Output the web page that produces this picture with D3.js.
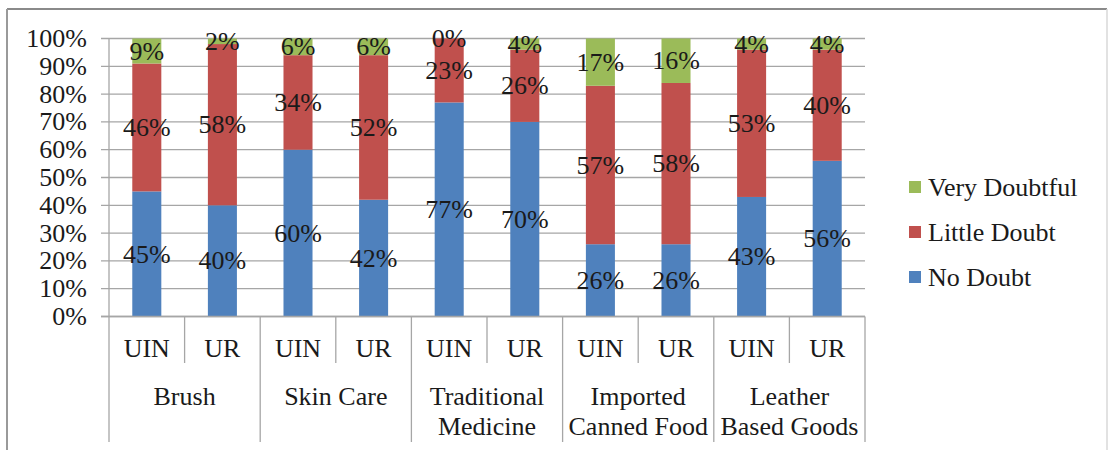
<!DOCTYPE html>
<html>
<head>
<meta charset="utf-8">
<script src="https://cdn.jsdelivr.net/npm/d3@7/dist/d3.min.js"></script>
<style>
  html, body { margin: 0; padding: 0; background: #fff; }
  svg { display: block; }
</style>
</head>
<body>
<svg id="chart" width="1110" height="450"></svg>
<script>
// ---- data ----
const groups = ["Brush", "Skin Care", "Traditional Medicine", "Imported Canned Food", "Leather Based Goods"];
const groupLines = [["Brush"], ["Skin Care"], ["Traditional", "Medicine"], ["Imported", "Canned Food"], ["Leather", "Based Goods"]];
const subgroups = ["UIN", "UR"];
const noDoubt     = [45, 40, 60, 42, 77, 70, 26, 26, 43, 56];
const littleDoubt = [46, 58, 34, 52, 23, 26, 57, 58, 53, 40];
const veryDoubtful = [9, 2, 6, 6, 0, 4, 17, 16, 4, 4];
const seriesNames = ["No Doubt", "Little Doubt", "Very Doubtful"];
const yTicks = [0, 10, 20, 30, 40, 50, 60, 70, 80, 90, 100];

const colors = { "No Doubt": "#4F81BD", "Little Doubt": "#C0504D", "Very Doubtful": "#9BBB59" };

(function () {
const svg = d3.select("#chart");
const pLeft = 109, pRight = 865, pTop = 38.5, pBottom = 316.5;
const fontSize = 26;
const FAM = '"Liberation Serif"';
const ink = "#1a1a1a";
const styleText = sel => sel.style("font-family", FAM).attr("font-size", fontSize).attr("fill", ink);

// outer frame
svg.append("line").attr("x1", 7).attr("x2", 1107).attr("y1", 9).attr("y2", 9).attr("stroke", "#8a8a8a").attr("stroke-width", 2);
svg.append("line").attr("x1", 7).attr("x2", 7).attr("y1", 9).attr("y2", 450).attr("stroke", "#9a9a9a").attr("stroke-width", 2);
svg.append("line").attr("x1", 1107).attr("x2", 1107).attr("y1", 9).attr("y2", 450).attr("stroke", "#d8d8d8").attr("stroke-width", 1.5);

// rows
const rows = [];
groups.forEach((g, gi) => subgroups.forEach((s, si) => {
  const i = gi * 2 + si;
  rows.push({ key: g + "|" + s, group: g, sub: s,
    "No Doubt": noDoubt[i], "Little Doubt": littleDoubt[i], "Very Doubtful": veryDoubtful[i] });
}));

const x = d3.scaleBand().domain(rows.map(r => r.key)).range([pLeft, pRight]).paddingInner(0.616).paddingOuter(0.308);
const step = x.step();
const y = d3.scaleLinear().domain([0, 100]).range([pBottom, pTop]);

// gridlines + ticks
svg.append("g").selectAll("line").data(yTicks).join("line")
  .attr("x1", pLeft - 8).attr("x2", pRight)
  .attr("y1", d => y(d)).attr("y2", d => y(d))
  .attr("stroke", "#a6a6a6").attr("stroke-width", 1.3);

// y axis line
svg.append("line").attr("x1", pLeft).attr("x2", pLeft).attr("y1", pTop).attr("y2", 442).attr("stroke", "#a6a6a6").attr("stroke-width", 1.3);

// y labels
svg.append("g").selectAll("text").data(yTicks).join("text")
  .attr("x", 87).attr("y", d => y(d)).attr("dy", "0.33em")
  .attr("text-anchor", "end").call(styleText)
  .text(d => d + "%");

// stacked bars
const stack = d3.stack().keys(seriesNames);
const stacked = stack(rows);
const layer = svg.append("g").selectAll("g").data(stacked).join("g").attr("fill", d => colors[d.key]);
layer.selectAll("rect").data(d => d).join("rect")
  .attr("x", d => x(d.data.key)).attr("width", x.bandwidth())
  .attr("y", d => y(d[1])).attr("height", d => y(d[0]) - y(d[1]));

// data labels
const lbl = svg.append("g");
stacked.forEach(s => {
  s.forEach(d => {
    lbl.append("text")
      .attr("x", x(d.data.key) + x.bandwidth() / 2)
      .attr("y", y((d[0] + d[1]) / 2)).attr("dy", "0.33em")
      .attr("text-anchor", "middle").call(styleText)
      .text(d.data[s.key] + "%");
  });
});

// category axis: baseline
svg.append("line").attr("x1", pLeft - 8).attr("x2", pRight).attr("y1", pBottom).attr("y2", pBottom).attr("stroke", "#a6a6a6").attr("stroke-width", 1.3);

// separators
const sep = svg.append("g").attr("stroke", "#a6a6a6").attr("stroke-width", 1.3);
rows.forEach((r, i) => {
  const xs = pLeft + (i + 1) * step;
  const long = (i % 2 === 1);
  sep.append("line").attr("x1", xs).attr("x2", xs).attr("y1", pBottom).attr("y2", long ? 442 : 363);
});

// sub labels
svg.append("g").selectAll("text").data(rows).join("text")
  .attr("x", d => x(d.key) + x.bandwidth() / 2).attr("y", 348).attr("dy", "0.33em")
  .attr("text-anchor", "middle").call(styleText)
  .text(d => d.sub);

// group labels
groups.forEach((g, gi) => {
  const cx = pLeft + step * (gi * 2 + 1);
  const t = svg.append("text").attr("text-anchor", "middle").call(styleText);
  groupLines[gi].forEach((ln, li) => {
    t.append("tspan").attr("x", cx).attr("y", 396 + li * 30).attr("dy", "0.33em").text(ln);
  });
});

// legend
const legendOrder = ["Very Doubtful", "Little Doubt", "No Doubt"];
const lg = svg.append("g").selectAll("g").data(legendOrder).join("g")
  .attr("transform", (d, i) => `translate(909, ${187 + i * 45})`);
lg.append("rect").attr("x", 0).attr("y", -6).attr("width", 12).attr("height", 12).attr("fill", d => colors[d]);
lg.append("text").attr("x", 19).attr("y", 0).attr("dy", "0.33em").call(styleText).text(d => d);
})();
</script>
</body>
</html>
